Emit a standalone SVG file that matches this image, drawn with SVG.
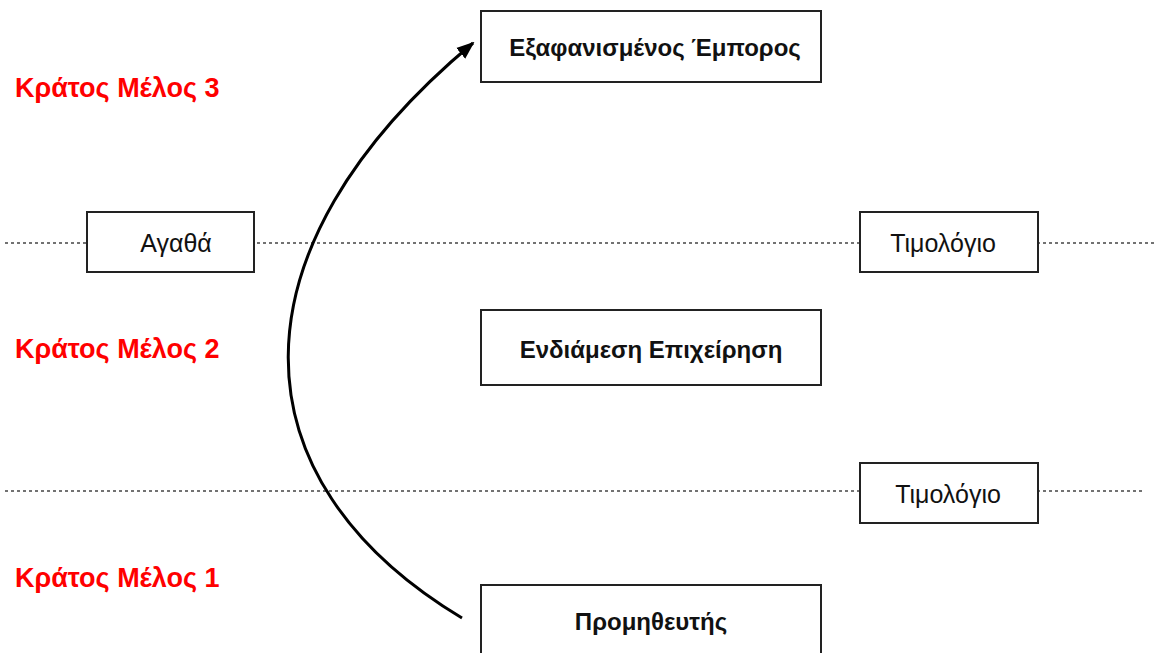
<svg xmlns="http://www.w3.org/2000/svg" width="1156" height="653" viewBox="0 0 1156 653">
<style>
.box{fill:#fff;stroke:#222;stroke-width:2}
.t{font-family:"Liberation Sans",Arial,sans-serif;font-size:25px;fill:#111;text-anchor:middle}
.b{font-weight:bold;font-size:24px}
.red{font-family:"Liberation Sans",Arial,sans-serif;font-size:27px;font-weight:bold;fill:#f00}
.dot{stroke:#444;stroke-width:1.5;stroke-dasharray:3,3;fill:none}
</style>
<defs>
<marker id="ah" markerWidth="18" markerHeight="16" refX="16" refY="7" orient="auto" markerUnits="userSpaceOnUse" viewBox="0 0 18 14">
<path d="M0,0 L18,7 L0,14 z" fill="#000"/>
</marker>
</defs>
<rect width="1156" height="653" fill="#fff"/>
<g id="lines">
<line class="dot" x1="5" y1="243" x2="1156" y2="243"/>
<line class="dot" x1="5" y1="491" x2="1143" y2="491"/>
</g>
<g id="labels">
<text class="red" x="15" y="97">Κράτος Μέλος 3</text>
<text class="red" x="15" y="358">Κράτος Μέλος 2</text>
<text class="red" x="15" y="587">Κράτος Μέλος 1</text>
</g>
<g id="n-exafanismenos"><rect class="box" x="481" y="11" width="340" height="71"/><text class="t b" x="655" y="56">Εξαφανισμένος Έμπορος</text></g>
<g id="n-agatha"><rect class="box" x="87" y="212" width="167" height="60"/><text class="t" x="176" y="252">Αγαθά</text></g>
<g id="n-timologio1"><rect class="box" x="860" y="212" width="178" height="60"/><text class="t" x="943" y="252">Τιμολόγιο</text></g>
<g id="n-endiamesi"><rect class="box" x="481" y="310" width="340" height="75"/><text class="t b" x="651" y="358">Ενδιάμεση Επιχείρηση</text></g>
<g id="n-timologio2"><rect class="box" x="860" y="463" width="178" height="60"/><text class="t" x="948" y="503">Τιμολόγιο</text></g>
<g id="n-promitheftis"><rect class="box" x="481" y="585" width="340" height="80"/><text class="t b" x="651" y="630">Προμηθευτής</text></g>
<g id="connectors">
<path d="M462,618 C232,480 225,250 473,43" fill="none" stroke="#000" stroke-width="3" marker-end="url(#ah)"/>
</g>
</svg>
